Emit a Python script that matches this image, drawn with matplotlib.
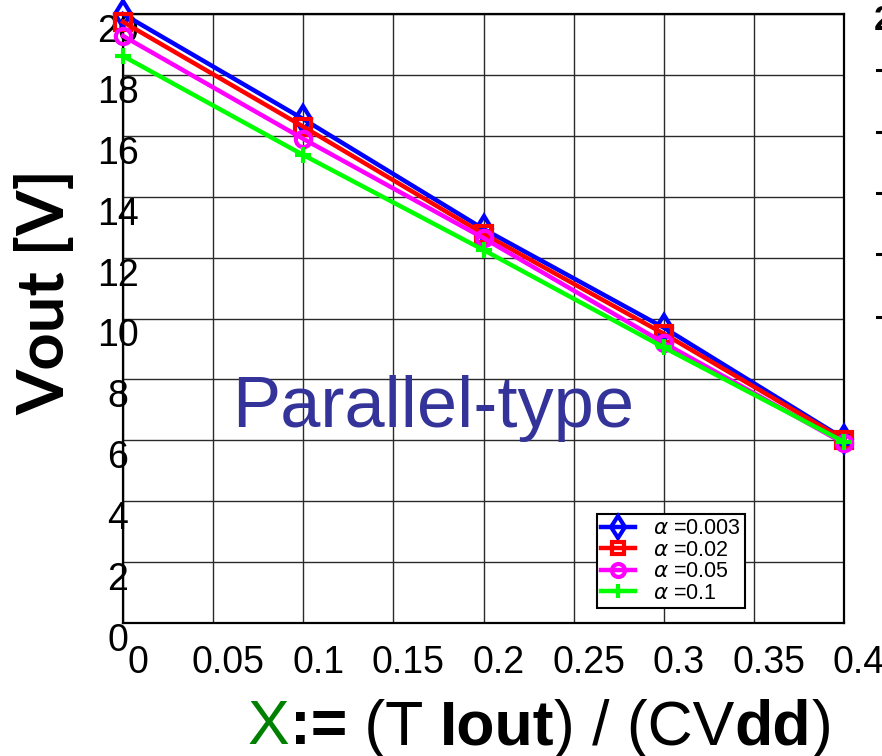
import matplotlib
matplotlib.use("Agg")
import matplotlib.pyplot as plt
from matplotlib import font_manager as fm
from matplotlib.transforms import ScaledTranslation
from matplotlib.offsetbox import TextArea, HPacker, AnnotationBbox
from matplotlib.lines import Line2D

# ---------------- data ----------------
x_vals = [0.0, 0.1, 0.2, 0.3, 0.4]
v_a0003 = [20.0, 16.55, 12.94, 9.7, 6.05]
v_a002 = [19.74, 16.3, 12.78, 9.5, 6.02]
v_a005 = [19.28, 15.9, 12.64, 9.2, 5.9]
v_a01 = [18.62, 15.37, 12.25, 9.05, 5.95]
series_labels = [r"$\alpha$ =0.003", r"$\alpha$ =0.02", r"$\alpha$ =0.05", r"$\alpha$ =0.1"]
x_ticks = [0, 0.05, 0.1, 0.15, 0.2, 0.25, 0.3, 0.35, 0.4]
x_tick_labels = ["0", "0.05", "0.1", "0.15", "0.2", "0.25", "0.3", "0.35", "0.4"]
y_ticks = [0, 2, 4, 6, 8, 10, 12, 14, 16, 18, 20]
y_tick_labels = ["0", "2", "4", "6", "8", "10", "12", "14", "16", "18", "20"]


def pick(*names):
    for n in names:
        try:
            fm.findfont(fm.FontProperties(family=n), fallback_to_default=False)
            return n
        except Exception:
            pass
    return "DejaVu Sans"


narrow = pick("Liberation Sans Narrow", "DejaVu Sans Condensed", "Liberation Sans")
regular = pick("Liberation Sans", "DejaVu Sans")
cond = pick("DejaVu Sans Condensed", "Liberation Sans")
boldfont = pick("Lato", "Liberation Sans")

W, H = 882, 756
fig = plt.figure(figsize=(W / 100, H / 100), dpi=100)
L, R, T, B = 123, 844, 14, 623
ax = fig.add_axes([L / W, (H - B) / H, (R - L) / W, (B - T) / H])

styles = [
    dict(color="#0000ff", marker="d", ms=13),
    dict(color="#ff0000", marker="s", ms=11),
    dict(color="#ff00ff", marker="o", ms=11),
    dict(color="#00ff00", marker="+", ms=12),
]
series = [v_a0003, v_a002, v_a005, v_a01]
for vals, lab, st in zip(series, series_labels, styles):
    ax.plot(x_vals, vals, color=st["color"], lw=3.2, marker=st["marker"],
            ms=st["ms"], mfc="none", mec=st["color"], mew=3.0,
            label=lab, clip_on=False, zorder=3)

ax.set_xlim(0, 0.4)
ax.set_ylim(0, 20)
ax.set_xticks(x_ticks)
ax.set_yticks(y_ticks)
ax.grid(True, color="#2a2a2a", lw=1.0, zorder=0)
ax.set_axisbelow(True)
for s in ax.spines.values():
    s.set_linewidth(1.6)
    s.set_color("black")

ax.tick_params(axis="x", length=0, pad=16, labelsize=27)
ax.tick_params(axis="y", length=0, pad=3.6, labelsize=27)
ax.set_xticklabels(x_tick_labels, fontfamily=narrow)
ax.set_yticklabels(y_tick_labels, fontfamily=narrow)
off = ScaledTranslation(15 / 100, 0, fig.dpi_scale_trans)
for lab in ax.get_xticklabels():
    lab.set_transform(lab.get_transform() + off)
for lab in ax.get_yticklabels():
    lab.set_ha("center")
    lab.set_va("top")

# y label
fig.text(45 / W, 1 - 292 / H, "Vout [V]", rotation=90, ha="center", va="center",
         fontsize=47, fontweight="bold", family=boldfont)

# annotation
ax.text(0.0605, 6.44, "Parallel-type", color="#333399", fontsize=52,
        family=cond, ha="left", va="baseline", zorder=2)

# legend
leg = ax.legend(loc="upper left", bbox_to_anchor=(0.657, 0.179), borderaxespad=0,
                fancybox=False, framealpha=1, edgecolor="black",
                prop=dict(family=regular, size=15.5), labelspacing=0.02,
                handlelength=1.6, handletextpad=0.8, borderpad=0.2,
                markerscale=0.85)
leg.get_frame().set_linewidth(1.5)

# x label made of styled pieces
pieces = [
    ("X", dict(color="#008000", weight="normal")),
    (":=", dict(color="black", weight="bold")),
    (" (T ", dict(color="black", weight="normal")),
    ("Iout", dict(color="black", weight="bold")),
    (") / (CV", dict(color="black", weight="normal")),
    ("dd", dict(color="black", weight="bold")),
    (")", dict(color="black", weight="normal")),
]
areas = [TextArea(t, textprops=dict(fontsize=45, family=regular, **p)) for t, p in pieces]
box = HPacker(children=areas, align="baseline", pad=0, sep=0)
ab = AnnotationBbox(box, (540 / W, 1 - 728 / H), xycoords="figure fraction",
                    box_alignment=(0.5, 0.5), frameon=False, pad=0,
                    annotation_clip=False)
fig.add_artist(ab)

# cropped fragments of the neighbouring chart at the right edge
fig.text(874 / W, 1 - 20 / H, "2", fontsize=25, fontweight="bold", family=regular,
         ha="left", va="center")
for yp in [70, 132, 193, 254, 317]:
    fig.add_artist(Line2D([877 / W, 1.0], [1 - yp / H, 1 - yp / H],
                          transform=fig.transFigure, color="black", lw=2.2))

fig.savefig("out.png", dpi=100)
